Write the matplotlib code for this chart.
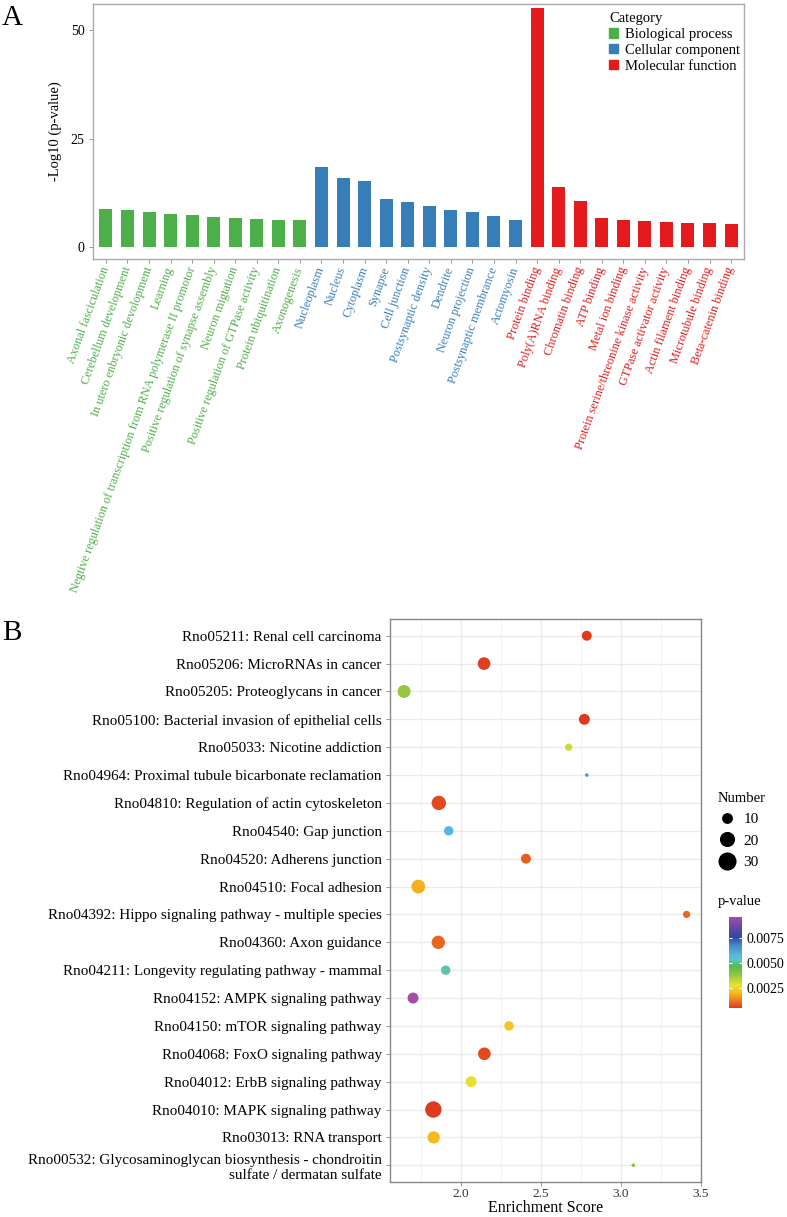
import numpy as np
import matplotlib
matplotlib.use('Agg')
import matplotlib.pyplot as plt
from matplotlib.patches import Patch
from matplotlib.lines import Line2D
from matplotlib.colors import LinearSegmentedColormap, Normalize
from matplotlib.cm import ScalarMappable

plt.rcParams['font.family'] = ['Liberation Serif', 'DejaVu Serif']

# ---- panel A: GO terms ----
bp_terms = ['Axonal fasciculation', 'Cerebellum development', 'In utero enbryonic devolopment',
            'Learning', 'Negtive regulation of transcription from RNA polymerase II promotor',
            'Positive regulation of synapse assembly', 'Neuron migtation',
            'Positive regulation of GTPase activity', 'Protein ubiquitination', 'Axonogenesis']
bp_vals = [8.8, 8.6, 7.95, 7.7, 7.25, 7.0, 6.6, 6.4, 6.3, 6.2]

cc_terms = ['Nucleoplasm', 'Nucleus', 'Cytoplasm', 'Synapse', 'Cell junction',
            'Postsynaptic density', 'Dendrite', 'Neuron projection',
            'Postsynaptic membrance', 'Actomyosin']
cc_vals = [18.4, 15.9, 15.3, 11.0, 10.4, 9.4, 8.6, 7.95, 7.2, 6.2]

mf_terms = ['Protein binding', 'Poly(A)RNA binding', 'Chromatin binding', 'ATP binding',
            'Metal ion binding', 'Protein serine/threonine kinase activity',
            'GTPase activator activity', 'Actin filament binding', 'Microtubule binding',
            'Beta-catenin binding']
mf_vals = [55.2, 13.9, 10.6, 6.6, 6.3, 5.9, 5.7, 5.6, 5.6, 5.2]

categories = ['Biological process', 'Cellular component', 'Molecular function']
cat_colors = ['#4DAF4A', '#377EB8', '#E41A1C']

# ---- panel B: KEGG pathways ----
pathways = ['Rno05211: Renal cell carcinoma',
            'Rno05206: MicroRNAs in cancer',
            'Rno05205: Proteoglycans in cancer',
            'Rno05100: Bacterial invasion of epithelial cells',
            'Rno05033: Nicotine addiction',
            'Rno04964: Proximal tubule bicarbonate reclamation',
            'Rno04810: Regulation of actin cytoskeleton',
            'Rno04540: Gap junction',
            'Rno04520: Adherens junction',
            'Rno04510: Focal adhesion',
            'Rno04392: Hippo signaling pathway - multiple species',
            'Rno04360: Axon guidance',
            'Rno04211: Longevity regulating pathway - mammal',
            'Rno04152: AMPK signaling pathway',
            'Rno04150: mTOR signaling pathway',
            'Rno04068: FoxO signaling pathway',
            'Rno04012: ErbB signaling pathway',
            'Rno04010: MAPK signaling pathway',
            'Rno03013: RNA transport',
            'Rno00532: Glycosaminoglycan biosynthesis - chondroitin\nsulfate / dermatan sulfate']
enrich = [2.786, 2.144, 1.644, 2.771, 2.673, 2.786, 1.861, 1.923, 2.406, 1.733,
          3.41, 1.858, 1.904, 1.70, 2.30, 2.146, 2.063, 1.827, 1.829, 3.077]
number = [11, 17, 18, 13, 7, 5, 22, 10, 11, 20, 7, 19, 10, 13, 10, 17, 13, 29, 16, 5]
pvalue = [0.0005, 0.0006, 0.0038, 0.0005, 0.0031, 0.0065, 0.0007, 0.0058, 0.0009, 0.0019,
          0.0010, 0.0010, 0.0052, 0.0096, 0.0022, 0.0007, 0.0027, 0.0005, 0.0020, 0.0040]
size_breaks = [10, 20, 30]
p_ticks = [0.0025, 0.0050, 0.0075]

W, H, DPI = 787, 1217, 100
NUM_LIMITS = (5, 31)


def fx(px):
    return px / W


def fy(py):
    return 1 - py / H


def dot_pt(n):
    # ggplot-like area scale, diameter in points
    t = np.sqrt((np.asarray(n, float) - NUM_LIMITS[0]) / (NUM_LIMITS[1] - NUM_LIMITS[0]))
    px = 0.94 * (2.845 * (1 + 5 * t) + 0.945)
    return px * 72.0 / DPI


fig = plt.figure(figsize=(W / DPI, H / DPI), dpi=DPI)

# ================= A =================
ax1 = fig.add_axes([fx(93), fy(259), fx(744) - fx(93), fy(4) - fy(259)])
terms = bp_terms + cc_terms + mf_terms
vals = bp_vals + cc_vals + mf_vals
cols = [cat_colors[0]] * len(bp_terms) + [cat_colors[1]] * len(cc_terms) + [cat_colors[2]] * len(mf_terms)
xs = np.arange(len(terms))
ax1.bar(xs, vals, width=0.6, color=cols)
ax1.set_xlim(-0.6, len(terms) - 0.4)
ax1.set_ylim(-2.8, 56.1)
ax1.set_yticks([0, 25, 50])
ax1.set_xticks(xs)
ax1.set_xticklabels(terms, rotation=70, ha='right', va='center', rotation_mode='anchor', fontsize=8.8)
for lab, c in zip(ax1.get_xticklabels(), cols):
    lab.set_color(c)
ax1.tick_params(axis='both', length=3, width=0.6, color='#888888', pad=3)
ax1.tick_params(axis='y', labelsize=10)
for s in ax1.spines.values():
    s.set_color('#AAAAAA')
    s.set_linewidth(1.0)
ax1.set_ylabel('-Log10 (p-value)', fontsize=10.5, labelpad=6)

ax1.legend(handles=[Patch(color=c, label=l) for c, l in zip(cat_colors, categories)],
           title='Category', loc='upper left', bbox_to_anchor=(fx(609), fy(12)),
           bbox_transform=fig.transFigure, frameon=False, fontsize=10.5, title_fontsize=10.5,
           handlelength=0.62, handleheight=0.62, handletextpad=0.45, labelspacing=0.2,
           borderpad=0, borderaxespad=0, alignment='left')

fig.text(fx(2), fy(5), 'A', fontsize=21, va='top', ha='left')

# ================= B =================
ax2 = fig.add_axes([fx(390), fy(1182), fx(701) - fx(390), fy(619) - fy(1182)])
ys = np.arange(len(pathways))[::-1] + 1

cmap = LinearSegmentedColormap.from_list('pv', [
    (0.00, '#DD3A1E'), (0.08, '#EE7A1E'), (0.17, '#F5BE1E'), (0.25, '#EAE32F'),
    (0.37, '#8CC63F'), (0.46, '#56B94E'), (0.53, '#5CC6C0'), (0.58, '#56B8E2'),
    (0.68, '#4A8CC8'), (0.78, '#3049A4'), (0.90, '#6A4AA6'), (1.00, '#A44CA8')])
norm = Normalize(vmin=min(pvalue), vmax=max(pvalue))

ax2.set_axisbelow(True)
ax2.scatter(enrich, ys, s=dot_pt(number) ** 2, c=pvalue, cmap=cmap, norm=norm,
            linewidths=0, zorder=3)
ax2.set_xlim(1.556, 3.5)
ax2.set_ylim(0.4, len(pathways) + 0.6)
ax2.set_xticks([2.0, 2.5, 3.0, 3.5])
ax2.set_xticks([1.75, 2.25, 2.75, 3.25], minor=True)
ax2.set_yticks(ys)
ax2.set_yticklabels(pathways, fontsize=10.9, multialignment='right')
ax2.grid(which='major', color='#EBEBEB', linewidth=1.0)
ax2.grid(which='minor', axis='x', color='#F2F2F2', linewidth=0.6)
ax2.tick_params(axis='both', which='major', length=3, width=0.6, color='#888888', pad=3)
ax2.tick_params(axis='x', which='minor', length=0)
ax2.tick_params(axis='x', which='major', labelsize=9.5, colors='#888888', labelcolor='#333333', pad=1.5)
for s in ax2.spines.values():
    s.set_color('#888888')
    s.set_linewidth(1.0)
ax2.set_xlabel('Enrichment Score', fontsize=11.5, labelpad=0)

size_handles = [Line2D([], [], marker='o', ls='', color='black', markersize=dot_pt(n))
                for n in size_breaks]
ax2.legend(handles=size_handles, labels=[str(n) for n in size_breaks], title='Number',
           loc='upper left', bbox_to_anchor=(fx(718), fy(792)), bbox_transform=fig.transFigure,
           frameon=False, fontsize=11, title_fontsize=10.5, handlelength=1.2,
           handletextpad=0.45, labelspacing=0.5, borderpad=0, borderaxespad=0,
           alignment='left')

cax = fig.add_axes([fx(729), fy(1008), fx(742) - fx(729), fy(917) - fy(1008)])
cb = fig.colorbar(ScalarMappable(norm=norm, cmap=cmap), cax=cax)
cb.outline.set_visible(False)
cb.set_ticks(p_ticks)
cb.set_ticklabels(['%.4f' % v for v in p_ticks])
cax.tick_params(length=0, labelsize=10, pad=3)
cax.hlines(p_ticks, 0, 0.2, colors='white', linewidth=0.8)
cax.hlines(p_ticks, 0.8, 1, colors='white', linewidth=0.8)
fig.text(fx(718), fy(895), 'p-value', fontsize=10.5, va='top', ha='left')

fig.text(fx(2), fy(620), 'B', fontsize=21, va='top', ha='left')

fig.savefig('out.png', dpi=DPI)
